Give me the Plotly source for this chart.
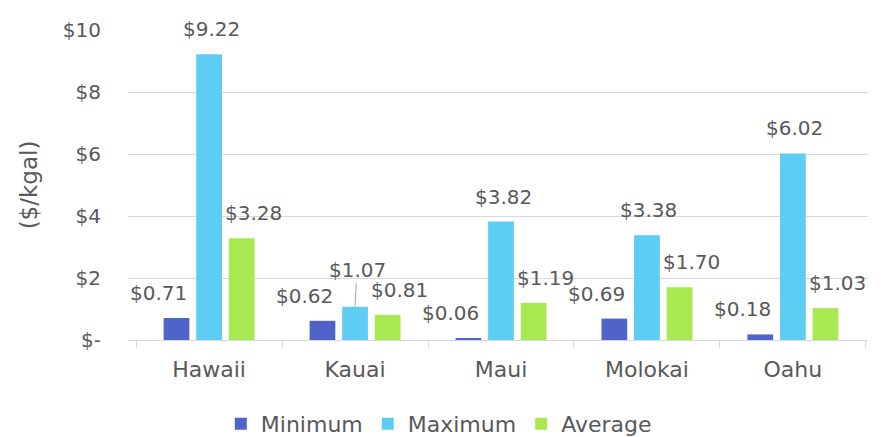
import plotly.graph_objects as go

categories = ["Hawaii", "Kauai", "Maui", "Molokai", "Oahu"]
minimum = [0.71, 0.62, 0.06, 0.69, 0.18]
maximum = [9.22, 1.07, 3.82, 3.38, 6.02]
average = [3.28, 0.81, 1.19, 1.70, 1.03]
tick_vals = [0, 2, 4, 6, 8, 10]
tick_text = ["$-", "$2", "$4", "$6", "$8", "$10"]

FONT = "DejaVu Sans"
TXT = "#595959"
GRID = "#d9d9d9"
BARGAP = 0.33

series = [
    ("Minimum", minimum, "#4F63C8", -18),
    ("Maximum", maximum, "#5DCDF3", 2),
    ("Average", average, "#A8E850", 12),
]

fig = go.Figure()
for i, (name, vals, color, dx) in enumerate(series):
    fig.add_trace(go.Bar(
        x=categories, y=vals, name=name, marker_color=color,
        marker_line_width=0, offsetgroup=str(i),
    ))

annotations = []
n = len(series)
for i, (name, vals, color, dx) in enumerate(series):
    for j, (cat, v) in enumerate(zip(categories, vals)):
        xpos = j + (i - (n - 1) / 2) * (1 - BARGAP) / n
        label = f"${v:.2f}"
        if name == "Maximum" and cat == "Kauai":
            annotations.append(dict(
                x=xpos, y=v, xref="x", yref="y", text=label,
                showarrow=True, arrowhead=0, arrowwidth=1, arrowcolor="#a6a6a6",
                ax=2, ay=-37, standoff=0,
                font=dict(family=FONT, size=20, color=TXT),
            ))
        else:
            annotations.append(dict(
                x=xpos, y=v, xref="x", yref="y", text=label,
                showarrow=False, xshift=dx, yshift=25,
                font=dict(family=FONT, size=20, color=TXT),
            ))

fig.update_layout(
    width=884, height=437,
    margin=dict(l=128, r=16, t=30, b=97, autoexpand=False),
    paper_bgcolor="white", plot_bgcolor="white",
    barmode="group", bargap=BARGAP, bargroupgap=0.21,
    font=dict(family=FONT, size=20, color=TXT),
    showlegend=True,
    legend=dict(orientation="h", x=0.42, xanchor="center", y=-0.271, yanchor="middle",
                font=dict(family=FONT, size=22, color=TXT),
                itemwidth=30, tracegroupgap=0),
    annotations=annotations,
)
fig.update_xaxes(
    type="category", showgrid=False, showline=True, linecolor=GRID, linewidth=1,
    ticks="outside", tickson="boundaries", ticklen=7, tickcolor=GRID,
    ticklabelstandoff=10,
    tickfont=dict(family=FONT, size=22, color=TXT), automargin=False,
)
fig.update_yaxes(
    range=[0, 10], tickvals=tick_vals, ticktext=tick_text,
    showgrid=True, gridcolor=GRID, gridwidth=1, zeroline=False, showline=False,
    ticklabelstandoff=26, automargin=False,
    tickfont=dict(family=FONT, size=20, color=TXT),
    title=dict(text="($/kgal)", font=dict(family=FONT, size=23, color=TXT), standoff=18),
)

fig.write_html("out.html", config={"displayModeBar": False},
               post_script="document.body.style.margin='0';document.body.style.padding='0';")
